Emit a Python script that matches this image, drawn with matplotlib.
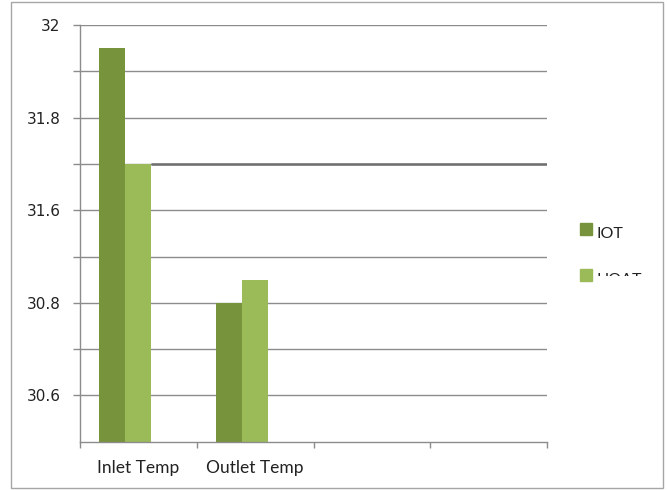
import numpy as np
import matplotlib.pyplot as plt
from matplotlib.patches import Rectangle
from matplotlib.transforms import Bbox, TransformedBbox

# chart data (axis units; tick labels as printed on the original chart)
categories = ['Inlet Temp', 'Outlet Temp', '', '']
series_names = ['IOT', 'HOAT']
iot = [31.95, 31.40]
hoat = [31.70, 31.45]
colors = ['#77933C', '#9BBB59']
ytick_vals = [32.0, 31.8, 31.6, 31.4, 31.2]
ytick_labels = ['32', '31.8', '31.6', '30.8', '30.6']

W, H = 667, 490
fig = plt.figure(figsize=(W / 100, H / 100), dpi=100)

def fx(px):
    return px / W

def fy(py):
    return 1 - py / H

# outer chart border
fig.add_artist(Rectangle((fx(11), fy(488)), fx(663) - fx(11), fy(2) - fy(488),
                         transform=fig.transFigure, fill=False,
                         edgecolor='#a6a6a6', linewidth=1))

ax = fig.add_axes([fx(80), fy(441.7), fx(547) - fx(80), fy(25) - fy(441.7)])

x = np.arange(len(categories))
bw = 0.223
ax.bar(x[:len(iot)] - bw, iot, width=bw, color=colors[0], align='center', zorder=3)
ax.bar(x[:len(hoat)], hoat, width=bw, color=colors[1], align='center', zorder=3)

ax.set_ylim(31.1, 32.0)
ax.set_xlim(-0.5, len(categories) - 0.5)

# gridlines every 0.1, labels every other line
grid_vals = np.round(np.arange(31.2, 32.01, 0.1), 2)
for g in grid_vals:
    ax.axhline(g, color='#8c8c8c', linewidth=1, zorder=1)
# darker line level with the HOAT inlet bar top
ax.hlines(hoat[0], x[0] + bw / 2, len(categories) - 0.5, color='#6e6e6e',
          linewidth=1.8, zorder=2)

ax.set_yticks(grid_vals)
ax.set_yticklabels([ytick_labels[ytick_vals.index(v)] if v in ytick_vals else ''
                    for v in grid_vals])
ax.tick_params(axis='y', length=5, width=1, color='#8c8c8c', pad=9,
               labelsize=11, labelcolor='#222222')
for lbl in ax.get_yticklabels():
    lbl.set_family('DejaVu Sans')

ax.set_xticks(x)
ax.set_xticklabels(categories, family='Lato', fontsize=12.5)
ax.tick_params(axis='x', length=0, pad=13, labelcolor='#222222')
ax.set_xticks(np.arange(-0.5, len(categories), 1), minor=True)
ax.tick_params(axis='x', which='minor', length=4, width=1, color='#8c8c8c')

for s in ['top', 'right']:
    ax.spines[s].set_visible(False)
for s in ['left', 'bottom']:
    ax.spines[s].set_color('#8c8c8c')
    ax.spines[s].set_linewidth(1)
ax.spines['bottom'].set_zorder(4)

# legend (HOAT label is cut off in the original)
leg_y = [223, 269]
for i, name in enumerate(series_names):
    top = leg_y[i]
    fig.add_artist(Rectangle((fx(580), fy(top + 12)), fx(12), fy(0) - fy(12),
                             transform=fig.transFigure, color=colors[i]))
    t = fig.text(fx(597), fy(top + 14.5), name, family='Lato', fontsize=11.5,
                 color='#222222', va='baseline', ha='left')
    if i == 1:
        clip = TransformedBbox(Bbox([[fx(590), fy(276)], [fx(660), fy(250)]]),
                               fig.transFigure)
        t.set_clip_box(clip)
        t.set_clip_on(True)

fig.savefig('out.png', dpi=100)
